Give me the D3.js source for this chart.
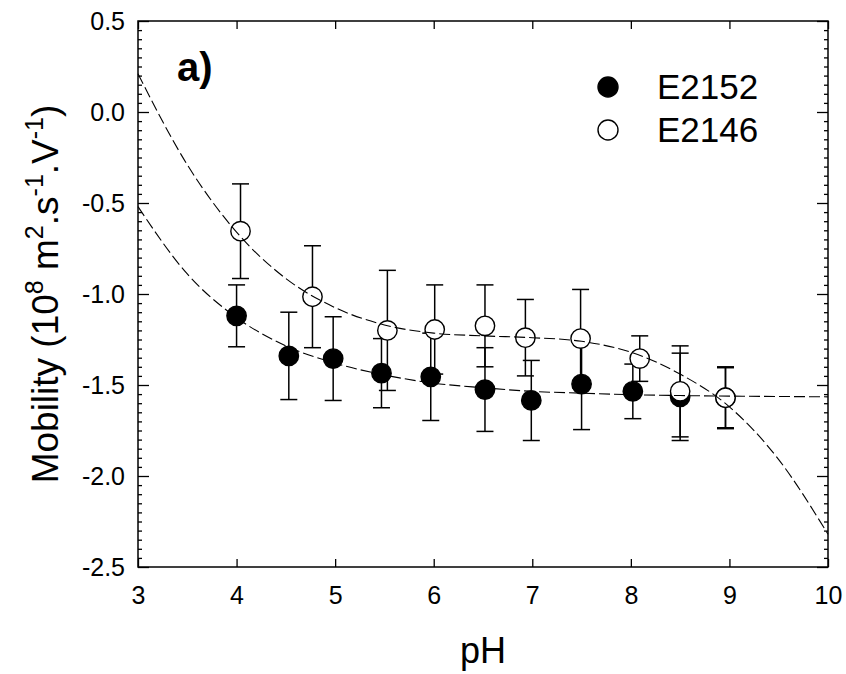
<!DOCTYPE html>
<html>
<head>
<meta charset="utf-8">
<script src="https://cdn.jsdelivr.net/npm/d3@7"></script>
<style>
  html, body { margin: 0; padding: 0; background: #fff; }
  svg { display: block; font-family: Arial, "Liberation Sans", sans-serif; }
</style>
</head>
<body>
<svg id="chart" width="846" height="674"></svg>
<script>
// ---- data ----
const phE2152  = [4.00, 4.53, 4.98, 5.47, 5.97, 6.52, 6.99, 7.50, 8.02, 8.50, 8.96];
const mobE2152 = [-1.12, -1.34, -1.355, -1.435, -1.455, -1.525, -1.585, -1.495, -1.535, -1.565, -1.57];
const errE2152 = [0.17, 0.24, 0.23, 0.19, 0.24, 0.23, 0.22, 0.25, 0.15, 0.24, 0.17];

const phE2146  = [4.04, 4.77, 5.53, 6.01, 6.52, 6.93, 7.49, 8.09, 8.50, 8.96];
const mobE2146 = [-0.655, -1.015, -1.20, -1.195, -1.175, -1.24, -1.245, -1.355, -1.535, -1.57];
const errE2146 = [0.26, 0.28, 0.33, 0.245, 0.225, 0.21, 0.27, 0.125, 0.25, 0.165];

const fitPH    = [3, 3.5, 4, 4.5, 5, 5.5, 6, 6.5, 7, 7.5, 8, 8.5, 9, 9.5, 10];
const fitE2152 = [-0.52, -0.89, -1.13, -1.285, -1.38, -1.445, -1.49, -1.515, -1.535, -1.545, -1.553, -1.558, -1.561, -1.563, -1.565];
const fitE2146 = [0.21, -0.29, -0.66, -0.915, -1.075, -1.17, -1.215, -1.23, -1.24, -1.26, -1.32, -1.44, -1.62, -1.91, -2.32];

const xTicks = [3, 4, 5, 6, 7, 8, 9, 10];
const yTicks = [-2.5, -2.0, -1.5, -1.0, -0.5, 0.0, 0.5];
const seriesNames = ["E2152", "E2146"];

// ---- layout ----
const L = 138, R = 828, T = 21, B = 567;
const FONT = "Arial, 'Liberation Sans', sans-serif";
const svg = d3.select("#chart");

const x = d3.scaleLinear().domain([3, 10]).range([L, R]);
const y = d3.scaleLinear().domain([-2.5, 0.5]).range([B, T]);

const minorY = d3.range(-2.5, 0.5001, 0.05).map(v => +v.toFixed(2)).filter(v => !yTicks.includes(v));

function styleAxis(g) {
  g.select(".domain").remove();
  g.selectAll(".tick line").attr("stroke", "#000").attr("stroke-width", 1.3);
}
// left
svg.append("g").attr("transform", `translate(${L},0)`)
  .call(d3.axisLeft(y).tickValues(yTicks).tickSize(-11).tickSizeOuter(0).tickFormat(d => d.toFixed(1)))
  .call(styleAxis)
  .call(g => g.selectAll("text").attr("x", -13).attr("font-size", 25).attr("fill", "#000").attr("font-family", FONT));
svg.append("g").attr("transform", `translate(${L},0)`)
  .call(d3.axisLeft(y).tickValues(minorY).tickSize(-4).tickSizeOuter(0).tickFormat(""))
  .call(styleAxis);
// right
svg.append("g").attr("transform", `translate(${R},0)`)
  .call(d3.axisRight(y).tickValues(yTicks).tickSize(-11).tickSizeOuter(0).tickFormat(""))
  .call(styleAxis);
svg.append("g").attr("transform", `translate(${R},0)`)
  .call(d3.axisRight(y).tickValues(minorY).tickSize(-4).tickSizeOuter(0).tickFormat(""))
  .call(styleAxis);
// bottom
svg.append("g").attr("transform", `translate(0,${B})`)
  .call(d3.axisBottom(x).tickValues(xTicks).tickSize(-8).tickSizeOuter(0).tickFormat(d3.format("d")))
  .call(styleAxis)
  .call(g => g.selectAll("text").attr("y", 37).attr("dy", null).attr("font-size", 25).attr("fill", "#000").attr("font-family", FONT));
// top
svg.append("g").attr("transform", `translate(0,${T})`)
  .call(d3.axisTop(x).tickValues(xTicks).tickSize(-8).tickSizeOuter(0).tickFormat(""))
  .call(styleAxis);

// frame
svg.append("rect").attr("x", L).attr("y", T).attr("width", R - L).attr("height", B - T)
  .attr("fill", "none").attr("stroke", "#000").attr("stroke-width", 1.5);

// axis titles
svg.append("text").attr("x", (L + R) / 2).attr("y", 663).attr("text-anchor", "middle")
  .attr("font-size", 36).attr("fill", "#000").text("pH");

const yt = svg.append("text").attr("transform", `translate(58,${(T + B) / 2}) rotate(-90)`)
  .attr("text-anchor", "middle").attr("font-size", 37).attr("fill", "#000");
const supParts = [["Mobility (10", false], ["8", true], [" m", false], ["2", true], [".s", false], ["-1", true], [".V", false], ["-1", true], [")", false]];
let prevSup = false;
supParts.forEach(([t, sup]) => {
  const ts = yt.append("tspan").text(t);
  if (sup) { ts.attr("font-size", 25).attr("dy", prevSup ? 0 : -15); }
  else if (prevSup) { ts.attr("dy", 15); }
  prevSup = sup;
});

// panel label
svg.append("text").attr("x", 177).attr("y", 81).attr("font-size", 40).attr("font-weight", "bold").attr("fill", "#000").text("a)");

// error bars + markers
const capW = 8.5;
function drawSeries(ph, mob, err, filled) {
  const g = svg.append("g");
  const idx = d3.range(ph.length);
  const eb = g.selectAll(".eb").data(idx).enter().append("g");
  eb.append("line").attr("x1", i => x(ph[i])).attr("x2", i => x(ph[i]))
    .attr("y1", i => y(mob[i] + err[i])).attr("y2", i => y(mob[i] - err[i]))
    .attr("stroke", "#000").attr("stroke-width", 1.5);
  eb.append("line").attr("x1", i => x(ph[i]) - capW).attr("x2", i => x(ph[i]) + capW)
    .attr("y1", i => y(mob[i] + err[i])).attr("y2", i => y(mob[i] + err[i]))
    .attr("stroke", "#000").attr("stroke-width", 1.5);
  eb.append("line").attr("x1", i => x(ph[i]) - capW).attr("x2", i => x(ph[i]) + capW)
    .attr("y1", i => y(mob[i] - err[i])).attr("y2", i => y(mob[i] - err[i]))
    .attr("stroke", "#000").attr("stroke-width", 1.5);
  g.selectAll("circle").data(idx).enter().append("circle")
    .attr("cx", i => x(ph[i])).attr("cy", i => y(mob[i])).attr("r", 9.7)
    .attr("fill", filled ? "#000" : "#fff").attr("stroke", "#000").attr("stroke-width", 1.4);
}
drawSeries(phE2152, mobE2152, errE2152, true);
drawSeries(phE2146, mobE2146, errE2146, false);

// fitted curves
const line = d3.line().x((d, i) => x(fitPH[i])).y(d => y(d)).curve(d3.curveMonotoneX);
[fitE2152, fitE2146].forEach(arr => {
  svg.append("path").datum(arr).attr("d", line).attr("fill", "none")
    .attr("stroke", "#000").attr("stroke-width", 1.1).attr("stroke-dasharray", "11,4");
});

// legend
const lg = svg.append("g");
seriesNames.forEach((name, i) => {
  const cy = 87 + i * 43;
  lg.append("circle").attr("cx", 608).attr("cy", cy).attr("r", 10)
    .attr("fill", i === 0 ? "#000" : "#fff").attr("stroke", "#000").attr("stroke-width", 1.4);
  lg.append("text").attr("x", 657).attr("y", cy + 12).attr("font-size", 35).attr("fill", "#000").text(name);
});
</script>
</body>
</html>
